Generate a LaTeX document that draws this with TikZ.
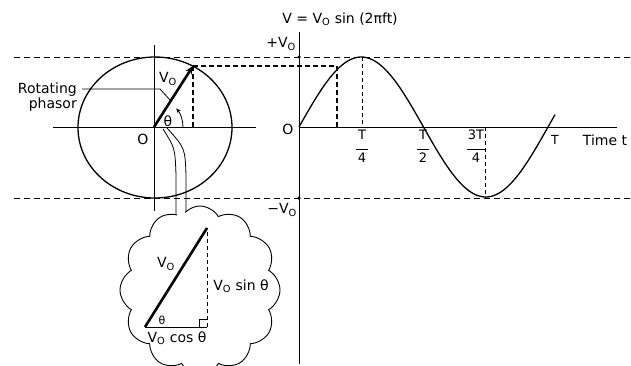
\documentclass[tikz,border=0pt]{standalone}
\usepackage{fontspec}
\setmainfont{DejaVu Sans}
\usetikzlibrary{shapes.symbols,arrows.meta}
\newcommand\Vo{V\textsubscript{O}}
\begin{document}
\begin{tikzpicture}[x=1pt,y=-1pt,
  font=\fontsize{14}{15.5}\selectfont,
  axis/.style={line width=1pt},
  refdash/.style={line width=0.8pt, dash pattern=on 6pt off 4pt},
  proj/.style={line width=1.5pt, dash pattern=on 5pt off 3pt},
  thindash/.style={line width=0.7pt, dash pattern=on 4pt off 3pt},
  lbl/.style={inner sep=1pt},
  frac/.style={inner sep=0pt, align=center, font=\fontsize{13}{13}\selectfont},
  dot/.style={circle, fill, inner sep=0pt, minimum size=3.5pt}]
\useasboundingbox (0,0) rectangle (631,365);
% key points
\coordinate (O) at (154,127);
\coordinate (P) at (193,66);
\coordinate (Px) at (193,127);
\coordinate (G) at (299,127);
\coordinate (S) at (337,66);
\coordinate (Sx) at (337,127);
% reference dashed lines
\draw[refdash] (14,57) -- (630,57);
\draw[refdash] (14,198) -- (630,198);
% phasor circle and axes
\draw[line width=1.3pt] (155,127.5) ellipse [x radius=77, y radius=70.5];
\draw[axis] (154,45) -- (154,211);
\draw[axis] (53,127) -- (256,127);
% graph axes
\draw[axis] (299,32) -- (299,364);
\draw[axis] (G) -- (617,127);
\node[dot] (d1) at (299,57) {};
\node[dot] (d2) at (299,198) {};
% sine curve
\draw[line width=1.3pt] plot[domain=0:256, samples=120, smooth] ({299+\x},{127-70*sin(\x/249*360)});
% projections
\draw[proj] (P) -- (Px);
\draw[proj] (P) -- (S);
\draw[proj] (S) -- (Sx);
\draw[thindash] (362,57) -- (362,127);
\draw[thindash] (485,127) -- (485,198);
% phasor
\draw[line width=2.6pt, -{Stealth[length=8pt,width=7pt]}] (O) -- (P);
\draw[line width=0.8pt, -{Stealth[length=5pt,width=4pt]}] (183,127) arc[start angle=0, end angle=-40, radius=29];
% leader to phasor
\draw[line width=0.8pt] (82,89) -- (160,89) -- (170,100);
% labels left
\node[lbl, anchor=east, align=right] (rp) at (78,97) {Rotating\\phasor};
\node[lbl] (v0a) at (168,79) {\Vo};
\node[lbl] (th) at (168,121) {θ};
\node[lbl] (o1) at (143,139) {O};
% labels graph
\node[lbl] (eq) at (340,19) {V = \Vo{} sin (2πft)};
\node[lbl, anchor=east] (pv) at (297,44) {+\Vo};
\node[lbl] (o2) at (288,129) {O};
\node[lbl, anchor=east] (mv) at (298,210) {−\Vo};
\node[frac] (t4) at (362,146) {T\\[-2pt]\rule{12pt}{1pt}\\[-1pt]4};
\node[frac] (t2) at (423,146) {T\\[-2pt]\rule{12pt}{1pt}\\[-1pt]2};
\node[frac] (t34) at (476,146) {3T\\[-2pt]\rule{18pt}{1pt}\\[-1pt]4};
\node[lbl, font=\fontsize{12.5}{12}\selectfont] (tt) at (555,140) {T};
\node[lbl] (time) at (605,140) {Time t};
% callout tail
\draw[line width=0.8pt] (163,129) .. controls (175,148) .. (176,175) -- (176,230);
\draw[line width=0.8pt] (167,128) .. controls (185,148) .. (186,175) -- (186,230);
% cloud
\node[cloud, draw, fill=white, line width=0.9pt, cloud puffs=12, cloud puff arc=120, cloud ignores aspect, minimum width=160pt, minimum height=168pt] (cl) at (200,290) {};
\fill[white] (176.6,204) rectangle (185.4,228);
% triangle in cloud
\coordinate (A) at (145,327);
\coordinate (B) at (207,327);
\coordinate (C) at (207,228);
\draw[line width=0.9pt] (A) -- (B);
\draw[thindash] (B) -- (C);
\draw[line width=2.6pt] (A) -- (C);
\draw[line width=0.8pt] (199,327) -- (199,319) -- (207,319);
\node[lbl] (v0b) at (166,264) {\Vo};
\node[lbl] (vs) at (241,286) {\Vo{} sin θ};
\node[lbl, font=\fontsize{11}{12}\selectfont] (th2) at (162,320) {θ};
\node[lbl] (vc) at (177,338) {\Vo{} cos θ};
\end{tikzpicture}
\end{document}
